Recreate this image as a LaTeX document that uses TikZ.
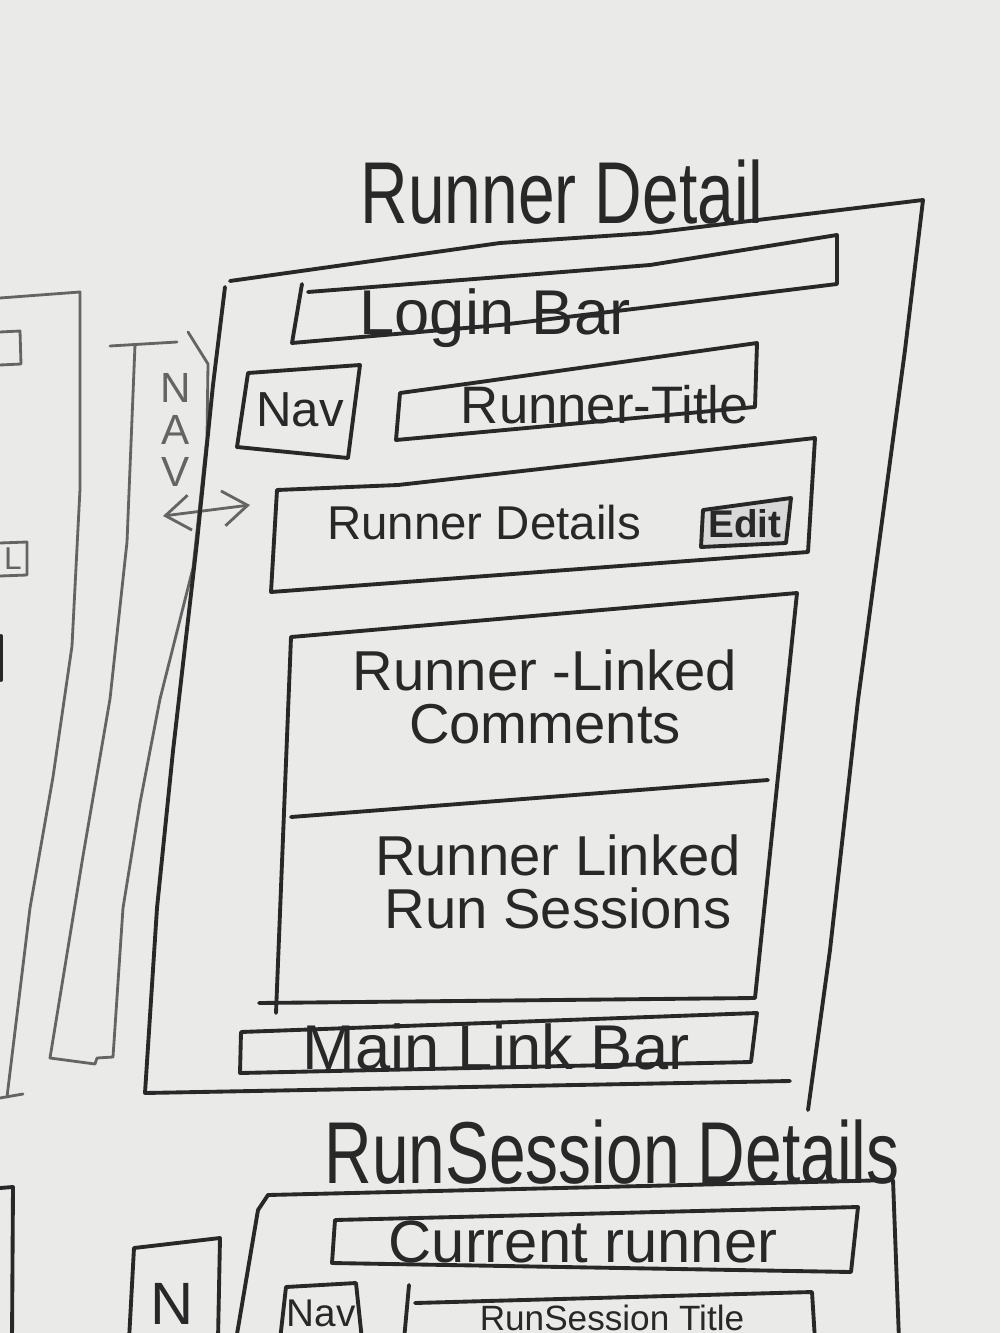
\documentclass[tikz,border=0pt]{standalone}
\usepackage{fontspec}
\newfontfamily\sketchfont{Liberation Sans}
\newfontfamily\titlefont{Liberation Sans}[FakeStretch=0.75]
\usetikzlibrary{arrows.meta}
\definecolor{paper}{RGB}{234,234,232}
\definecolor{ink}{RGB}{40,40,40}
\definecolor{inklight}{RGB}{100,100,100}

\begin{document}
\begin{tikzpicture}[x=0.1mm, y=-0.1mm,
  pencil/.style={draw=ink, line width=1.1pt, line join=round, line cap=round},
  faint/.style={pencil, draw=inklight, line width=0.8pt},
  ttl/.style={font=\titlefont\fontsize{25}{28}\selectfont, text=ink, inner sep=0pt},
  lbl/.style={font=\sketchfont\fontsize{16}{15}\selectfont, text=ink, inner sep=0pt, align=center},
  navlbl/.style={lbl, text=inklight, font=\sketchfont\fontsize{12}{12}\selectfont},
  barb/.style={faint, {Straight Barb[length=7pt,width=10pt]}-{Straight Barb[length=7pt,width=10pt]}},
]
\useasboundingbox (0,0) rectangle (1000,1333);
\fill[paper] (0,0) rectangle (1000,1333);
\clip (0,0) rectangle (1000,1333);

% --- Previous page (cut off at the left) ---
\draw[faint] (0,298) -- (80,292) -- (80,489) -- (72,646) -- (53,777) -- (30,908) -- (7,1097);
\draw[faint] (0,1098) -- (23,1094);
\draw[faint] (0,332) -- (20,331) -- (21,364) -- (0,365);
\draw[faint] (0,543) -- (27,542) -- (27,575) -- (0,576);
\node[lbl, text=inklight, font=\sketchfont\fontsize{9}{9}\selectfont] (oldl) at (13,559) {L};
\draw[pencil] (1,636) -- (1,680);
\draw[pencil] (0,1188) -- (13,1187) -- (12,1340);

% --- NAV side panel ---
\draw[faint] (110,346) -- (177,342);
\draw[faint] (135,345) -- (127,542) -- (110,699) -- (83,856) -- (50,1058)
  -- (95,1064) -- (97,1058) -- (113,1057) -- (123,908) -- (140,803)
  -- (160,699) -- (193,568) -- (207,437) -- (208,364) -- (188,332);
\node[navlbl] (navtxt) at (176,430) {N\\A\\V};
\coordinate (arrL) at (163,516);
\coordinate (arrR) at (250,505);
\draw[barb] (arrL) -- (arrR);

% --- Runner Detail page ---
\node[ttl] (rdtitle) at (562,192) {Runner Detail};
\draw[pencil] (230,281) -- (500,243) -- (650,233) -- (923,200)
  -- (905,350) -- (858,700) -- (830,950) -- (808,1110);
\draw[pencil] (225,287) -- (213,385) -- (197,542) -- (173,751) -- (157,908)
  -- (145,1093) -- (790,1081);

% login bar
\draw[pencil] (308,292) -- (500,277) -- (650,265) -- (837,235) -- (837,284)
  -- (650,307) -- (500,325) -- (292,343) -- (302,284);
\node[lbl, font=\sketchfont\fontsize{18}{18}\selectfont] (login) at (495,318) {Login Bar};

% nav button and title
\draw[pencil] (248,373) -- (360,365) -- (348,458) -- (237,447) -- cycle;
\node[lbl, font=\sketchfont\fontsize{14}{14}\selectfont] (navbtn) at (300,410) {Nav};
\draw[pencil] (400,393) -- (473,383) -- (757,343) -- (755,407) -- (396,440) -- cycle;
\node[lbl, font=\sketchfont\fontsize{15}{15}\selectfont] (rtitle) at (605,405) {Runner-Title};

% details with edit button
\draw[pencil] (277,490) -- (398,485) -- (815,438) -- (808,552) -- (271,592) -- cycle;
\node[lbl, font=\sketchfont\fontsize{13.5}{14}\selectfont] (rdetails) at (484,523) {Runner Details};
\draw[pencil, fill=ink!18] (703,510) -- (791,498) -- (786,543) -- (701,547) -- cycle;
\node[lbl, font=\sketchfont\bfseries\fontsize{11}{11}\selectfont] (edit) at (745,524) {Edit};

% linked lists
\draw[pencil] (276,1013) -- (291,637) -- (797,593) -- (755,998) -- (259,1003);
\draw[pencil] (291,817) -- (768,780);
\node[lbl] (comments) at (545,697) {Runner -Linked\\Comments};
\node[lbl] (sessions) at (558,882) {Runner Linked\\Run Sessions};

% main link bar
\draw[pencil] (241,1032) -- (757,1013) -- (751,1062) -- (240,1073) -- cycle;
\node[lbl, font=\sketchfont\fontsize{18}{18}\selectfont] (mainlink) at (496,1047) {Main Link Bar};

% --- RunSession Details page ---
\node[ttl] (rstitle) at (612,1152) {RunSession Details};
\draw[pencil] (236,1340) -- (258,1210) -- (268,1195) -- (893,1180) -- (899,1340);
\draw[pencil] (335,1220) -- (858,1207) -- (851,1272) -- (332,1263) -- cycle;
\node[lbl, font=\sketchfont\fontsize{17}{17}\selectfont] (currunner) at (583,1242) {Current runner};
\draw[pencil] (129,1340) -- (134,1248) -- (220,1238) -- (218,1340);
\node[lbl, font=\sketchfont\fontsize{17}{17}\selectfont] (nav2n) at (172,1304) {N};
\draw[pencil] (280,1340) -- (286,1287) -- (356,1283) -- (362,1340);
\node[lbl, font=\sketchfont\fontsize{11}{11}\selectfont] (navbtn2) at (321,1313) {Nav};
\draw[pencil] (404,1340) -- (409,1285);
\draw[pencil] (415,1303) -- (812,1292) -- (815,1340);
\node[lbl, font=\sketchfont\fontsize{10}{10}\selectfont] (rstitlebar) at (612,1318) {RunSession Title};
\end{tikzpicture}
\end{document}
